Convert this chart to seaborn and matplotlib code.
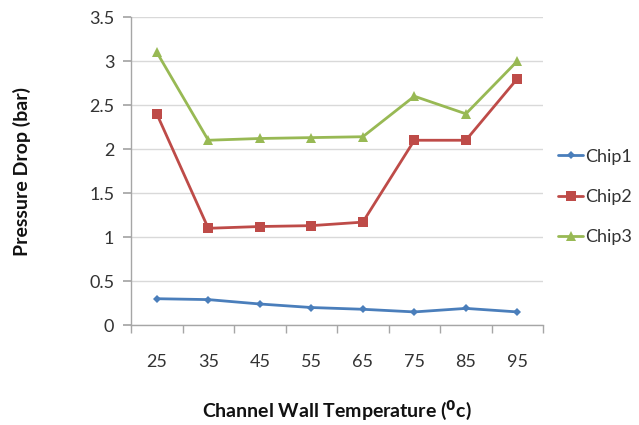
import matplotlib
matplotlib.use("Agg")
import matplotlib.pyplot as plt
import seaborn as sns
import pandas as pd
import numpy as np

temps = ["25", "35", "45", "55", "65", "75", "85", "95"]
chip1 = [0.30, 0.29, 0.24, 0.20, 0.18, 0.15, 0.19, 0.15]
chip2 = [2.40, 1.10, 1.12, 1.13, 1.17, 2.10, 2.10, 2.80]
chip3 = [3.10, 2.10, 2.12, 2.13, 2.14, 2.60, 2.40, 3.00]
series_names = ["Chip1", "Chip2", "Chip3"]
y_ticks = [0, 0.5, 1, 1.5, 2, 2.5, 3, 3.5]
y_tick_labels = ["0", "0.5", "1", "1.5", "2", "2.5", "3", "3.5"]

sns.set_theme(style="white")
plt.rcParams["font.family"] = ["Lato", "DejaVu Sans"]

rows = []
for name, vals in zip(series_names, [chip1, chip2, chip3]):
    for i, v in enumerate(vals):
        rows.append({"pos": i, "value": v, "series": name})
df = pd.DataFrame(rows)

fig = plt.figure(figsize=(6.39, 4.25), dpi=100)
ax = fig.add_axes([0.205, 0.235, 0.645, 0.725])

colors = {"Chip1": "#4A7EBB", "Chip2": "#BE4B48", "Chip3": "#98B954"}
markers = {"Chip1": "D", "Chip2": "s", "Chip3": "^"}
sizes = {"Chip1": 4.5, "Chip2": 6.5, "Chip3": 6.5}
for name in series_names:
    sub = df[df["series"] == name]
    sns.lineplot(data=sub, x="pos", y="value", ax=ax, color=colors[name],
                 marker=markers[name], markersize=sizes[name], linewidth=2,
                 markeredgewidth=0, label=name)

ax.set_xlim(-0.5, len(temps) - 0.5)
ax.set_ylim(0, 3.5)
ax.set_yticks(y_ticks)
ax.set_yticklabels(y_tick_labels, fontsize=13, color="#333333")
ax.set_xticks(range(len(temps)))
ax.set_xticklabels(temps, fontsize=13, color="#333333")
ax.set_xticks(np.arange(-0.5, len(temps), 1), minor=True)
ax.tick_params(axis="x", which="major", length=0, pad=21)
ax.tick_params(axis="x", which="minor", length=6, color="#A6A6A6", direction="out", bottom=True)
ax.tick_params(axis="y", which="major", length=6, color="#A6A6A6", direction="out", left=True, pad=6)
ax.yaxis.grid(True, color="#D9D9D9", linewidth=1)
ax.xaxis.grid(False)
for s in ["top", "right"]:
    ax.spines[s].set_visible(False)
for s in ["left", "bottom"]:
    ax.spines[s].set_color("#A6A6A6")
    ax.spines[s].set_linewidth(1)

ax.set_xlabel(r"Channel Wall Temperature ($\mathbf{^{0}}$c)", fontsize=14,
              fontweight="bold", labelpad=20, color="#111111")
ax.set_ylabel("Pressure Drop (bar)", fontsize=14, fontweight="bold",
              labelpad=42, color="#111111")

leg = ax.legend(loc="center left", bbox_to_anchor=(558 / 639, 1 - 197 / 425),
                bbox_transform=fig.transFigure, borderaxespad=0, borderpad=0,
                frameon=False, fontsize=13, handlelength=1.4, handletextpad=0.1,
                labelspacing=1.35)
for t in leg.get_texts():
    t.set_color("#333333")

fig.savefig("out.png", dpi=100)
